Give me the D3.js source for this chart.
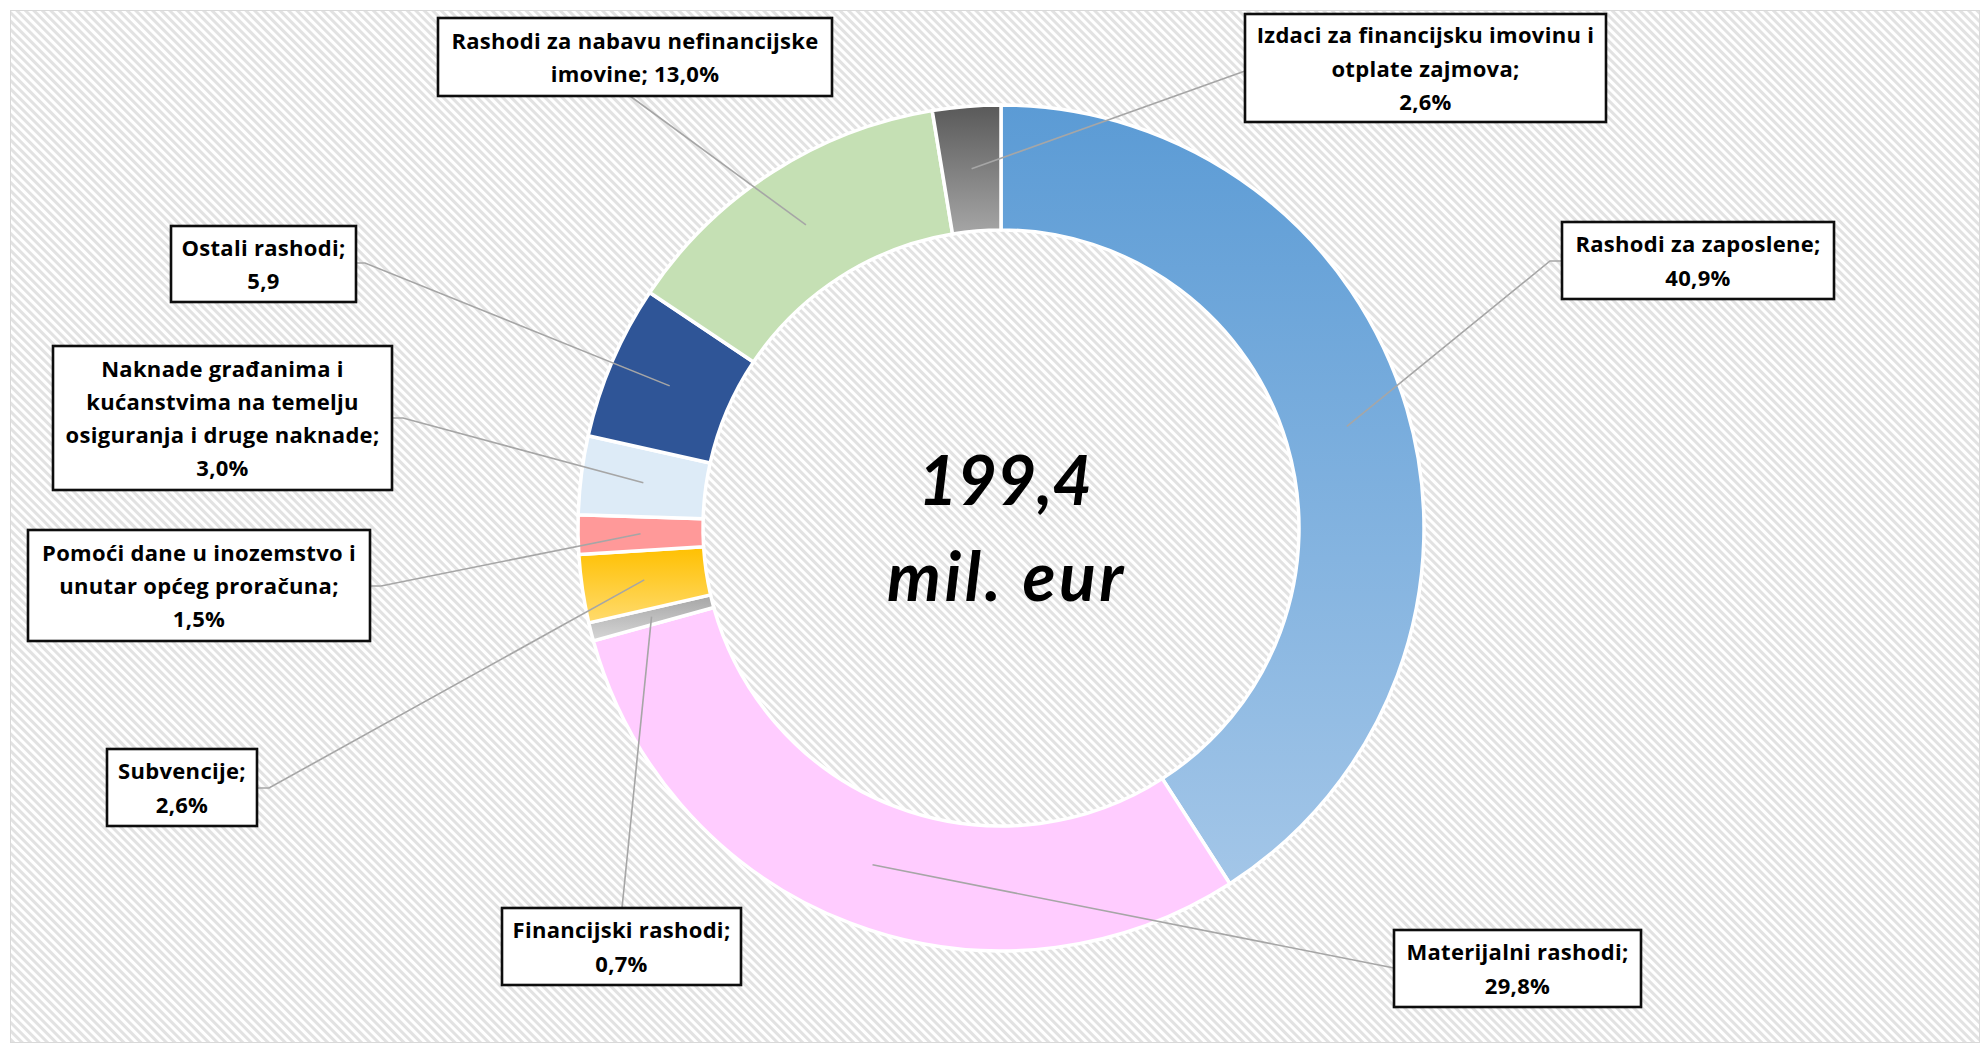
<!DOCTYPE html>
<html>
<head>
<meta charset="utf-8">
<script src="https://cdn.jsdelivr.net/npm/d3@7"></script>
<style>
  html, body { margin: 0; padding: 0; background: #ffffff; }
  svg { display: block; }
</style>
</head>
<body>
<svg id="chart" width="1983" height="1046"></svg>
<script>
// ---------- data ----------
const categories = [
  "Rashodi za zaposlene",
  "Materijalni rashodi",
  "Financijski rashodi",
  "Subvencije",
  "Pomoći dane u inozemstvo i unutar općeg proračuna",
  "Naknade građanima i kućanstvima na temelju osiguranja i druge naknade",
  "Ostali rashodi",
  "Rashodi za nabavu nefinancijske imovine",
  "Izdaci za financijsku imovinu i otplate zajmova"
];
const values = [40.9, 29.8, 0.7, 2.6, 1.5, 3.0, 5.9, 13.0, 2.6];
const valueLabels = ["40,9%", "29,8%", "0,7%", "2,6%", "1,5%", "3,0%", "5,9", "13,0%", "2,6%"];
const totalLabel = ["199,4", "mil. eur"];

// ---------- styling / layout ----------
const W = 1983, H = 1046;
const cx = 1001, cy = 528, rOuter = 423, rInner = 298;

// fill colours (gradient pairs: top -> bottom)
const fills = [
  ["#5B9BD5", "#A3C6E8"],
  ["#FFCCFF", "#FFCCFF"],
  ["#A5A5A5", "#D6D6D6"],
  ["#FFC000", "#FFDB6E"],
  ["#FF9999", "#FF9999"],
  ["#DDEBF7", "#DDEBF7"],
  ["#2F5597", "#2F5597"],
  ["#C5E0B4", "#C5E0B4"],
  ["#595959", "#A6A6A6"]
];

// label wrapping (as in the original)
const labelLines = [
  ["Rashodi za zaposlene;", valueLabels[0]],
  ["Materijalni rashodi;", valueLabels[1]],
  ["Financijski rashodi;", valueLabels[2]],
  ["Subvencije;", valueLabels[3]],
  ["Pomoći dane u inozemstvo i", "unutar općeg proračuna;", valueLabels[4]],
  ["Naknade građanima i", "kućanstvima na temelju", "osiguranja i druge naknade;", valueLabels[5]],
  ["Ostali rashodi;", valueLabels[6]],
  ["Rashodi za nabavu nefinancijske", "imovine; " + valueLabels[7]],
  ["Izdaci za financijsku imovinu i", "otplate zajmova;", valueLabels[8]]
];
// label boxes: x, y, w, h
const boxes = [
  [1562, 222, 272, 77],
  [1394, 930, 247, 77],
  [502, 908, 239, 77],
  [107, 749, 150, 77],
  [28, 530, 342, 111],
  [53, 346, 339, 144],
  [171, 226, 185, 76],
  [438, 18, 394, 78],
  [1245, 14, 361, 108]
];
// leader attachment points near the boxes
const anchors = [
  [[1550, 261], [1562, 261]],
  [[1394, 968]],
  [[622, 908]],
  [[269, 788], [257, 788]],
  [[381, 586], [370, 586]],
  [[403, 418], [392, 418]],
  [[365, 263], [356, 263]],
  [[630, 96]],
  [[1245, 71]]
];

// ---------- drawing ----------
const svg = d3.select("#chart");
const defs = svg.append("defs");

// diagonal stripe pattern
const pat = defs.append("pattern")
  .attr("id", "stripes")
  .attr("patternUnits", "userSpaceOnUse")
  .attr("width", 6).attr("height", 6)
  .attr("patternTransform", "rotate(45)");
pat.append("rect").attr("width", 6).attr("height", 6).attr("fill", "#ffffff");
pat.append("rect").attr("width", 6).attr("height", 3).attr("fill", "#E2E2E2");

fills.forEach((f, i) => {
  const g = defs.append("linearGradient")
    .attr("id", "grad" + i)
    .attr("x1", 0).attr("y1", 0).attr("x2", 0).attr("y2", 1);
  g.append("stop").attr("offset", "0%").attr("stop-color", f[0]);
  g.append("stop").attr("offset", "100%").attr("stop-color", f[1]);
});

// chart area
svg.append("rect")
  .attr("x", 10.5).attr("y", 10.5)
  .attr("width", W - 14).attr("height", H - 14)
  .attr("fill", "url(#stripes)")
  .attr("stroke", "#D9D9D9").attr("stroke-width", 1);

const pie = d3.pie().sort(null).value(d => d);
const arcs = pie(values);
const arcGen = d3.arc().innerRadius(rInner).outerRadius(rOuter);

const gPie = svg.append("g").attr("transform", `translate(${cx},${cy})`);
gPie.selectAll("path.slice")
  .data(arcs)
  .join("path")
  .attr("class", "slice")
  .attr("d", arcGen)
  .attr("fill", (d, i) => `url(#grad${i})`)
  .attr("stroke", "#ffffff")
  .attr("stroke-width", 3.5)
  .attr("stroke-linejoin", "round");

// leader lines
const lineGen = d3.line();
svg.append("g").selectAll("path.leader")
  .data(arcs)
  .join("path")
  .attr("class", "leader")
  .attr("d", (d, i) => {
    const c = arcGen.centroid(d);
    const pts = [[cx + c[0], cy + c[1]]].concat(anchors[i]);
    return lineGen(pts);
  })
  .attr("fill", "none")
  .attr("stroke", "#A6A6A6")
  .attr("stroke-width", 1.6);

// label boxes
const lineH = 33.3;
const gLab = svg.append("g")
  .attr("font-family", "'Open Sans', Lato, sans-serif")
  .attr("font-weight", 700)
  .attr("font-size", 22)
  .attr("letter-spacing", 0.3)
  .attr("fill", "#000");

categories.forEach((cat, i) => {
  const [bx, by, bw, bh] = boxes[i];
  const g = gLab.append("g").attr("class", "label");
  g.append("rect")
    .attr("x", bx).attr("y", by).attr("width", bw).attr("height", bh)
    .attr("fill", "#ffffff")
    .attr("stroke", "#0d0d0d").attr("stroke-width", 2.6);
  const lines = labelLines[i];
  const n = lines.length;
  const mid = by + bh / 2;
  lines.forEach((t, k) => {
    g.append("text")
      .attr("x", bx + bw / 2)
      .attr("y", mid + 8.5 + (k - (n - 1) / 2) * lineH)
      .attr("text-anchor", "middle")
      .text(t);
  });
});

// centre total
const gC = svg.append("g")
  .attr("font-family", "Lato, 'Open Sans', sans-serif")
  .attr("font-weight", 700)
  .attr("font-style", "italic")
  .attr("font-size", 68)
  .attr("fill", "#000")
  .attr("text-anchor", "middle");
gC.append("text").attr("x", cx + 4).attr("y", 505).text(totalLabel[0]);
gC.append("text").attr("x", cx + 6).attr("y", 601)
  .attr("letter-spacing", 3.5).text(totalLabel[1]);
</script>
</body>
</html>
